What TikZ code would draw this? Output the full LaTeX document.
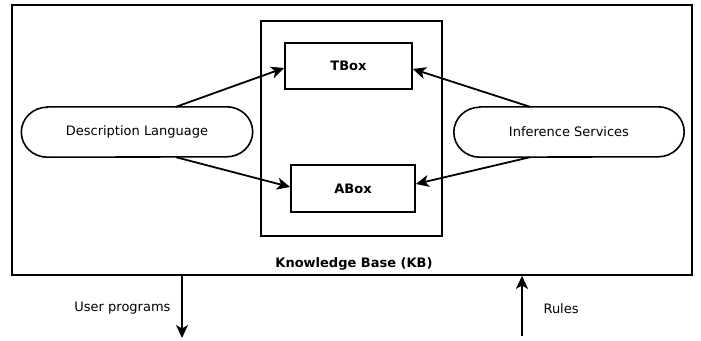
\documentclass[tikz,border=0pt]{standalone}
\usepackage{fontspec}
\setmainfont{DejaVu Sans}
\usetikzlibrary{arrows.meta,calc}
\tikzset{
  box/.style={draw=black,line width=1.8pt,rectangle,inner sep=0pt},
  boldtxt/.style={font=\fontsize{13}{15}\selectfont\bfseries},
  txt/.style={font=\fontsize{13}{15}\selectfont},
  oval/.style={rectangle,inner sep=0pt,draw=none,font=\fontsize{13}{15}\selectfont},
  arr/.style={line width=1.8pt,-{Stealth[length=13pt,width=12pt,inset=3.5pt]}},
}
\newcommand{\drawoval}[1]{%
  \draw[line width=1.6pt]
    ($(#1.north west)+(26,0)$) -- ($(#1.north east)+(-26,0)$)
    arc[start angle=90,end angle=-90,x radius=26pt,y radius=25pt]
    -- ($(#1.south west)+(26,0)$)
    arc[start angle=270,end angle=90,x radius=26pt,y radius=25pt] -- cycle;}
\begin{document}
\begin{tikzpicture}[x=1pt,y=-1pt]
\useasboundingbox (0,0) rectangle (701,340);
\node[box,minimum width=680pt,minimum height=270pt] (system) at (352,140) {};
\node[box,minimum width=181pt,minimum height=215pt] (kb) at (351.5,128.5) {};
\node[box,boldtxt,minimum width=127pt,minimum height=46pt] (tbox) at (348.5,66) {TBox};
\node[box,boldtxt,minimum width=124pt,minimum height=47pt] (abox) at (353,188.5) {ABox};
\node[boldtxt] (kblabel) at (354,264) {Knowledge Base (KB)};
\node[oval,minimum width=231pt,minimum height=50pt] (dl) at (137,132) {Description Language};
\node[oval,minimum width=230pt,minimum height=50pt] (is) at (569,132) {Inference Services};
\drawoval{dl}
\drawoval{is}
\draw[arr] ([xshift=39pt]dl.north) -- ([yshift=-2pt]tbox.west);
\draw[arr] ([xshift=39pt]dl.south) -- ([yshift=1.5pt]abox.west);
\draw[arr] ([xshift=-39pt]is.north) -- ([yshift=-3pt]tbox.east);
\draw[arr] ([xshift=-39pt]is.south) -- ([yshift=4.5pt]abox.east);
\coordinate (upend) at (182,338);
\coordinate (rulesstart) at (522,336);
\draw[arr] (system.south -| upend) -- (upend);
\draw[arr] (rulesstart) -- (system.south -| rulesstart);
\node[txt,anchor=east] (uplabel) at (174,308) {User programs};
\node[txt,anchor=west] (ruleslabel) at (540,309) {Rules};
\end{tikzpicture}
\end{document}
